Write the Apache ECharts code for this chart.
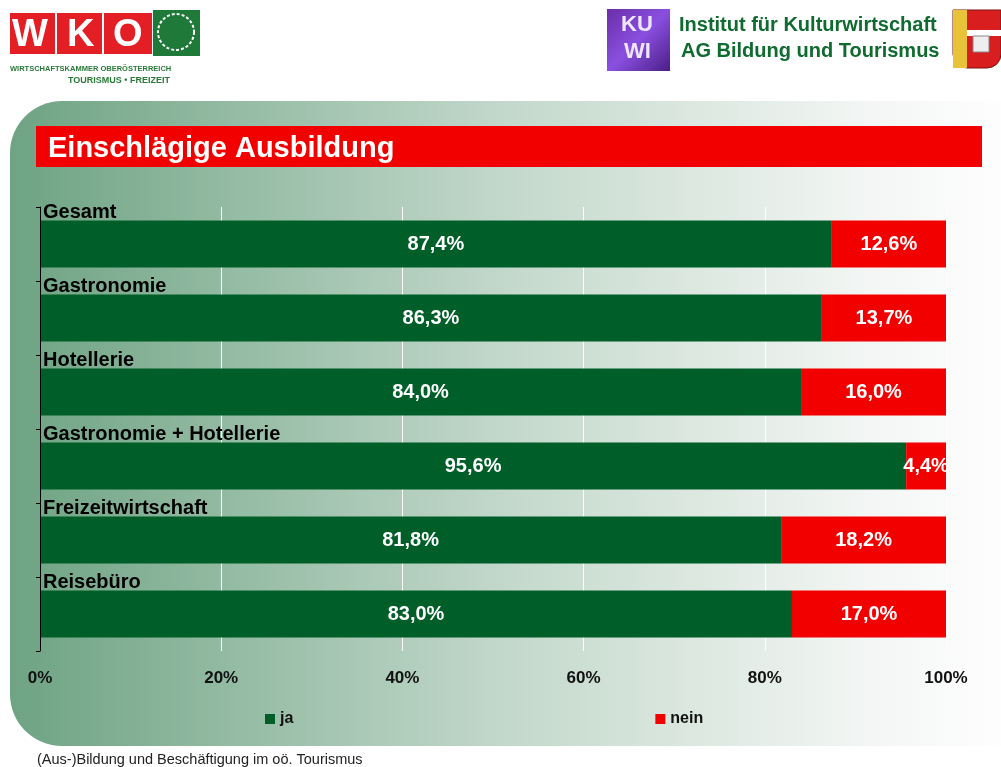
<!DOCTYPE html>
<html><head><meta charset="utf-8">
<script src="https://cdn.jsdelivr.net/npm/echarts@6/dist/echarts.min.js"></script>
<style>html,body{margin:0;padding:0;background:#fff}#c{width:1001px;height:767px}</style>
</head><body><div id="c"></div>
<script>
const categories = ['Gesamt','Gastronomie','Hotellerie','Gastronomie + Hotellerie','Freizeitwirtschaft','Reisebüro'];
const ja = [87.4, 86.3, 84.0, 95.6, 81.8, 83.0];
const nein = [12.6, 13.7, 16.0, 4.4, 18.2, 17.0];
const seriesNames = ['ja','nein'];
const titleText = 'Einschlägige Ausbildung';
const footerText = '(Aus-)Bildung und Beschäftigung im oö. Tourismus';

const FONT = '"Liberation Sans", Arial, sans-serif';
const GREEN = '#005e28', RED = '#f20000';
const fmt = p => p.value.toFixed(1).replace('.', ',') + '%';

const chart = echarts.init(document.getElementById('c'), null, {renderer:'canvas'});
chart.setOption({
  animation: false,
  textStyle: {fontFamily: FONT},
  graphic: [
    {type:'rect', z:-10, shape:{x:10,y:101,width:1010,height:645,r:[52,0,0,52]},
     style:{fill:new echarts.graphic.LinearGradient(0,0,1,0,[
       {offset:0,color:'#6ea383'},{offset:0.5,color:'#c4d9cc'},{offset:0.85,color:'#f3f6f4'},{offset:1,color:'#ffffff'}])}},
    {type:'rect', z:-5, shape:{x:36,y:126,width:946,height:41}, style:{fill:RED}},
    {type:'text', z:-4, left:48, top:134, style:{text:titleText, fill:'#fff', font:'bold 29px '+FONT}},
    {type:'text', left:37, top:752, style:{text:footerText, fill:'#222', font:'14.5px '+FONT}},
    // WKO logo
    {type:'rect', shape:{x:10,y:13,width:45,height:41}, style:{fill:'#e31e24'}},
    {type:'rect', shape:{x:57,y:13,width:45,height:41}, style:{fill:'#e31e24'}},
    {type:'rect', shape:{x:104,y:13,width:48,height:41}, style:{fill:'#e31e24'}},
    {type:'text', left:12, top:17, style:{text:'W', fill:'#fff', font:'bold 38px '+FONT}},
    {type:'text', left:67, top:17, style:{text:'K', fill:'#fff', font:'bold 38px '+FONT}},
    {type:'text', left:113, top:17, style:{text:'O', fill:'#fff', font:'bold 38px '+FONT}},
    {type:'rect', shape:{x:153,y:10,width:47,height:46}, style:{fill:'#1f7a3a'}},
    {type:'circle', shape:{cx:176,cy:32,r:18}, style:{fill:'none', stroke:'#fff', lineWidth:2, lineDash:[3,2]}},
    {type:'text', left:10, top:65, style:{text:'WIRTSCHAFTSKAMMER OBERÖSTERREICH', fill:'#2a7a3a', font:'bold 7.5px '+FONT}},
    {type:'text', left:68, top:76, style:{text:'TOURISMUS • FREIZEIT', fill:'#2a7a3a', font:'bold 9px '+FONT}},
    // KUWI
    {type:'rect', shape:{x:607,y:9,width:63,height:62},
     style:{fill:new echarts.graphic.LinearGradient(0,0,1,1,[{offset:0,color:'#6a2ea8'},{offset:0.5,color:'#8a4fe0'},{offset:1,color:'#4a1f86'}])}},
    {type:'text', left:621, top:14, style:{text:'KU', fill:'#eee6ff', font:'bold 22px '+FONT}},
    {type:'text', left:624, top:41, style:{text:'WI', fill:'#eee6ff', font:'bold 22px '+FONT}},
    {type:'text', left:679, top:15, style:{text:'Institut für Kulturwirtschaft', fill:'#0f6b2f', font:'bold 20px '+FONT}},
    {type:'text', left:681, top:41, style:{text:'AG Bildung und Tourismus', fill:'#0f6b2f', font:'bold 20px '+FONT}},
    // coat of arms
    {type:'rect', shape:{x:953,y:10,width:48,height:58,r:[0,0,14,14]}, style:{fill:'#d81e1e', stroke:'#7a1010', lineWidth:1}},
    {type:'rect', shape:{x:953,y:10,width:14,height:58}, style:{fill:'#e8c33a'}},
    {type:'rect', shape:{x:967,y:30,width:34,height:6}, style:{fill:'#fff'}},
    {type:'rect', shape:{x:973,y:36,width:16,height:16}, style:{fill:'#eee', stroke:'#888', lineWidth:1}}
  ],
  legend: {
    bottom: 35, left: 260, itemGap: 362, itemWidth: 10, itemHeight: 10,
    icon: 'rect',
    textStyle: {fontFamily: FONT, fontWeight:'bold', fontSize:16, color:'#111'},
    data: seriesNames
  },
  grid: {left:40, right:55, top:207, bottom:116, containLabel:false},
  xAxis: {
    type:'value', min:0, max:100, interval:20,
    axisLine:{show:false}, axisTick:{show:false},
    splitLine:{show:true, lineStyle:{color:'#ffffff', width:1}},
    axisLabel:{formatter:'{value}%', margin:19, fontFamily:FONT, fontWeight:'bold', fontSize:17, color:'#111'}
  },
  yAxis: {
    type:'category', data:categories, inverse:true, z:10,
    axisLine:{show:true, lineStyle:{color:'#000', width:1}},
    axisTick:{show:true, length:4, lineStyle:{color:'#000'}},
    axisLabel:{inside:true, margin:3, interval:0, showMinLabel:true, showMaxLabel:true, hideOverlap:false,
      fontFamily:FONT, fontWeight:'bold', fontSize:20, color:'#000',
      verticalAlign:'middle', lineHeight:64, formatter: v => v + '\n '}
  },
  series: [
    {name:seriesNames[0], type:'bar', stack:'a', data:ja, barWidth:47, itemStyle:{color:GREEN},
     label:{show:true, position:'inside', formatter:fmt, color:'#fff', fontFamily:FONT, fontWeight:'bold', fontSize:20}},
    {name:seriesNames[1], type:'bar', stack:'a', data:nein, barWidth:47, itemStyle:{color:RED},
     label:{show:true, position:'inside', formatter:fmt, color:'#fff', fontFamily:FONT, fontWeight:'bold', fontSize:20}}
  ]
});
</script></body></html>
